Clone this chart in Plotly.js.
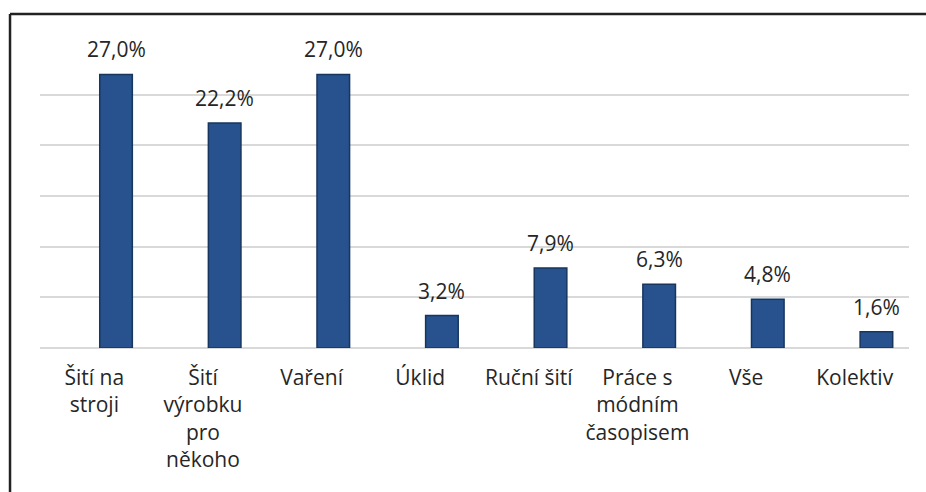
<!DOCTYPE html>
<html>
<head>
<meta charset="utf-8">
<script src="https://cdn.plot.ly/plotly-3.0.1.min.js"></script>
<style>
  html, body { margin: 0; padding: 0; background: #ffffff; }
  #chart { width: 926px; height: 492px; }
</style>
</head>
<body>
<div id="chart"></div>
<script>
// Data
const categories = [
  "Šití na<br>stroji",
  "Šití<br>výrobku<br>pro<br>někoho",
  "Vaření",
  "Úklid",
  "Ruční šití",
  "Práce s<br>módním<br>časopisem",
  "Vše",
  "Kolektiv"
];
const values = [27.0, 22.2, 27.0, 3.2, 7.9, 6.3, 4.8, 1.6];
const valueLabels = ["27,0%", "22,2%", "27,0%", "3,2%", "7,9%", "6,3%", "4,8%", "1,6%"];

const FONT = "'Open Sans', 'Noto Sans', sans-serif";
const TEXT_COLOR = "#262626";

// bars sit right of the category centre (clustered-series slot)
const BAR_WIDTH = 0.3;
const BAR_OFFSET = 0.05;

const trace = {
  type: "bar",
  x: categories,
  y: values,
  width: BAR_WIDTH,
  offset: BAR_OFFSET,
  marker: {
    color: "#27528D",
    line: { color: "#17365F", width: 1.5 }
  },
  hoverinfo: "none",
  showlegend: false
};

const annotations = categories.map((c, i) => ({
  x: i + BAR_OFFSET + BAR_WIDTH / 2,
  y: values[i],
  xref: "x",
  yref: "y",
  text: valueLabels[i],
  showarrow: false,
  xanchor: "center",
  yanchor: "bottom",
  yshift: 9,
  font: { family: FONT, size: 21, color: TEXT_COLOR }
}));

const layout = {
  width: 926,
  height: 492,
  margin: { l: 40, r: 17, t: 44, b: 144, pad: 0 },
  paper_bgcolor: "#ffffff",
  plot_bgcolor: "#ffffff",
  font: { family: FONT, size: 21, color: TEXT_COLOR },
  xaxis: {
    type: "category",
    range: [-0.5, categories.length - 0.5],
    showgrid: false,
    showline: false,
    zeroline: false,
    ticks: "",
    ticklabelstandoff: 15,
    tickfont: { family: FONT, size: 21, color: TEXT_COLOR },
    fixedrange: true
  },
  yaxis: {
    range: [0, 30],
    dtick: 5,
    tick0: 0,
    showgrid: true,
    gridcolor: "#D9D9D9",
    gridwidth: 2,
    zeroline: true,
    zerolinecolor: "#D9D9D9",
    zerolinewidth: 2,
    showticklabels: false,
    ticks: "",
    fixedrange: true
  },
  annotations: annotations,
  shapes: [
    { type: "line", xref: "paper", yref: "paper",
      x0: -0.0345, x1: 1.03, y0: 1.0987, y1: 1.0987,
      line: { color: "#222222", width: 2.5 } },
    { type: "line", xref: "paper", yref: "paper",
      x0: -0.0345, x1: -0.0345, y0: 1.0987, y1: -0.5,
      line: { color: "#222222", width: 2.5 } }
  ]
};

Plotly.newPlot("chart", [trace], layout, { displayModeBar: false, staticPlot: true });
</script>
</body>
</html>
